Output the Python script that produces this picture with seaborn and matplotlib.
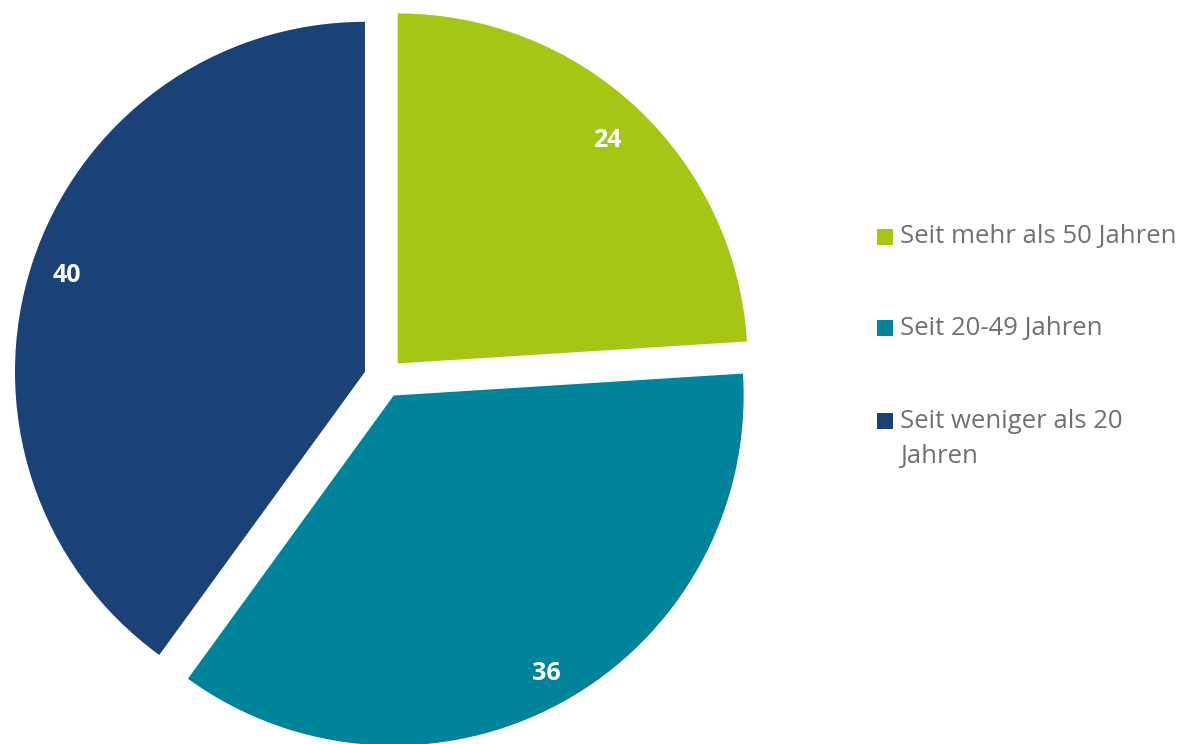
import matplotlib
matplotlib.use("Agg")
import matplotlib.pyplot as plt
import seaborn as sns
import numpy as np
from matplotlib.patches import Rectangle

categories = ["Seit mehr als 50 Jahren", "Seit 20-49 Jahren", "Seit weniger als 20\nJahren"]
values = [24, 36, 40]
colors = ["#A5C615", "#00849C", "#1B4276"]

sns.set_theme(style="white")
plt.rcParams['font.family'] = ['Open Sans', 'DejaVu Sans']

W, H = 1179, 744
fig = plt.figure(figsize=(W / 100, H / 100), dpi=100)
ax = fig.add_axes([0, 0, 1, 1])

cx, cy, r = 384, H - 378, 350
wedges, texts = ax.pie(values, colors=colors, startangle=90, counterclock=False,
                       explode=[20] * 3, radius=r, center=(cx, cy),
                       labels=[str(v) for v in values], labeldistance=0.88,
                       wedgeprops=dict(linewidth=0),
                       textprops=dict(color="white", fontsize=18, fontweight="bold"))
label_dist = [0.875, 0.905, 0.895]
for w, t, d in zip(wedges, texts, label_dist):
    th = np.deg2rad((w.theta1 + w.theta2) / 2)
    x0, y0 = w.center
    t.set_position((x0 + d * w.r * np.cos(th), y0 + d * w.r * np.sin(th)))
    t.set_ha("center")
    t.set_va("center")
ax.set_xlim(0, W)
ax.set_ylim(0, H)
ax.set_aspect("equal")
ax.axis("off")

# legend
ys = [237, 328, 421]
fs = 18.5
for y, c, lab in zip(ys, colors, categories):
    ax.add_patch(Rectangle((877, H - y - 8), 16, 16, color=c, lw=0))
    lines = lab.split("\n")
    for i, line in enumerate(lines):
        ax.text(900, H - y - 36 * i, line, ha="left", va="center",
                color="#707070", fontsize=fs)

fig.savefig("out.png", dpi=100)
